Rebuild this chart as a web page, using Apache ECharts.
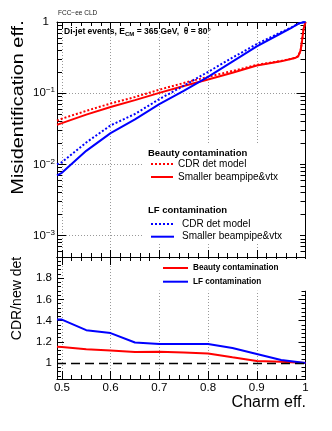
<!DOCTYPE html>
<html>
<head>
<meta charset="utf-8">
<script src="https://cdn.jsdelivr.net/npm/echarts@6/dist/echarts.min.js"></script>
<style>
html, body { margin: 0; padding: 0; background: #fff; }
#chart { width: 332px; height: 431px; }
</style>
</head>
<body>
<div id="chart"></div>
<script>
// charm efficiency points (top panel)
var effBins = [0.49, 0.5, 0.55, 0.6, 0.65, 0.7, 0.75, 0.8, 0.85, 0.9, 0.95, 0.97, 0.98, 0.985, 0.99, 0.993, 0.996, 1.0];
// beauty contamination
var bCdr = [0.041, 0.0438, 0.0565, 0.0716, 0.0884, 0.112, 0.139, 0.17, 0.205, 0.25, 0.284, 0.304, 0.316, 0.331, 0.40, 0.55, 0.8, 1.0];
var bNew = [0.036, 0.038, 0.05, 0.064, 0.08, 0.101, 0.126, 0.156, 0.194, 0.245, 0.28, 0.302, 0.315, 0.33, 0.40, 0.55, 0.8, 1.0];
// light flavour contamination
var lfCdr = [0.0100, 0.0107, 0.0203, 0.0353, 0.051, 0.0826, 0.127, 0.199, 0.315, 0.49, 0.72, 0.83, 0.905, 0.945, 0.97, 0.98, 0.99, 1.0];
var lfNew = [0.0070, 0.0076, 0.0155, 0.0275, 0.043, 0.07, 0.108, 0.169, 0.277, 0.454, 0.695, 0.82, 0.9, 0.94, 0.97, 0.98, 0.99, 1.0];

// ratio panel CDR / new det
var ratioBins = [0.49, 0.5, 0.55, 0.6, 0.65, 0.7, 0.75, 0.8, 0.85, 0.9, 0.95, 1.0];
var ratioB = [1.155, 1.152, 1.13, 1.118, 1.105, 1.108, 1.1, 1.09, 1.054, 1.02, 1.013, 1.0];
var ratioLf = [1.41, 1.41, 1.31, 1.283, 1.194, 1.18, 1.18, 1.18, 1.143, 1.086, 1.03, 1.0];

var legendNames = {
  bCdr: 'CDR det model',
  bNew: 'Smaller beampipe&vtx',
  lfCdr: 'CDR det model',
  lfNew: 'Smaller beampipe&vtx',
  rB: 'Beauty contamination',
  rLf: 'LF contamination'
};

var FONT = '"Liberation Sans", Arial, Helvetica, sans-serif';
var RED = '#ff0000', BLUE = '#0000ff';

function zip(xs, ys) {
  return xs.map(function (x, i) { return [x, ys[i]]; });
}

var gridLine = { show: true, lineStyle: { color: '#999', type: [1, 2], width: 1 } };
var axisLine = { show: true, onZero: false, lineStyle: { color: '#000', width: 1 } };
// hide the symbol that line legends draw by default
var noSymbol = { color: 'rgba(0,0,0,0)', opacity: 0, borderWidth: 0 };

function xAx(gridIndex, pos, opts) {
  return Object.assign({
    type: 'value', gridIndex: gridIndex, position: pos, min: 0.49, max: 1,
    axisLine: axisLine,
    axisTick: { show: true, inside: true, length: 8, lineStyle: { color: '#000' } },
    minorTick: { show: true, splitNumber: 5, length: 4, lineStyle: { color: '#000' } },
    axisLabel: { show: false },
    splitLine: { show: false }
  }, opts || {});
}

var chart = echarts.init(document.getElementById('chart'), null, { renderer: 'canvas' });

var option = {
  animation: false,
  backgroundColor: '#fff',
  textStyle: { fontFamily: FONT },
  grid: [
    { left: 57, top: 22, width: 248.5, height: 235 },
    { left: 57, top: 257, width: 248.5, height: 122 }
  ],
  xAxis: [
    xAx(0, 'bottom', { splitLine: gridLine, axisTick: { show: true, inside: true, length: 7, lineStyle: { color: '#000' } } }),
    xAx(0, 'top', { axisTick: { show: true, inside: true, length: 7, lineStyle: { color: '#000' } } }),
    xAx(1, 'bottom', {
      splitLine: gridLine,
      axisLabel: { show: true, showMinLabel: false, margin: 3, color: '#000', fontSize: 11.5, fontFamily: FONT }
    }),
    xAx(1, 'top', {})
  ],
  yAxis: [
    {
      type: 'log', logBase: 10, gridIndex: 0, position: 'left', min: 5e-4, max: 1,
      axisLine: axisLine,
      axisTick: { show: true, inside: true, length: 9, lineStyle: { color: '#000' } },
      minorTick: { show: true, splitNumber: 9, length: 5, lineStyle: { color: '#000' } },
      splitLine: gridLine,
      axisLabel: {
        show: true, showMinLabel: false, margin: 2, color: '#000',
        formatter: function (v) {
          if (Math.abs(v - 1) < 1e-9) return '{o|1}';
          var e = Math.round(Math.log10(v));
          return '{n|10}{s|\u2212' + (-e) + '}';
        },
        rich: {
          o: { fontSize: 11.5, fontFamily: FONT, color: '#000', padding: [0, 6, 0, 0] },
          n: { fontSize: 11.5, fontFamily: FONT, color: '#000' },
          s: { fontSize: 8, fontFamily: FONT, color: '#000', verticalAlign: 'top', padding: [0, 0, 6, 0] }
        }
      }
    },
    {
      type: 'log', logBase: 10, gridIndex: 0, position: 'right', min: 5e-4, max: 1,
      axisLine: axisLine,
      axisTick: { show: true, inside: true, length: 9, lineStyle: { color: '#000' } },
      minorTick: { show: true, splitNumber: 9, length: 5, lineStyle: { color: '#000' } },
      splitLine: { show: false },
      axisLabel: { show: false }
    },
    {
      type: 'value', gridIndex: 1, position: 'left', min: 0.85, max: 2,
      axisLine: axisLine,
      axisTick: { show: true, inside: true, length: 7, lineStyle: { color: '#000' } },
      minorTick: { show: true, splitNumber: 5, length: 4, lineStyle: { color: '#000' } },
      splitLine: { show: false },
      axisLabel: { show: true, showMinLabel: false, showMaxLabel: false, margin: 5, color: '#000', fontSize: 11.5, fontFamily: FONT }
    },
    {
      type: 'value', gridIndex: 1, position: 'right', min: 0.85, max: 2,
      axisLine: axisLine,
      axisTick: { show: true, inside: true, length: 7, lineStyle: { color: '#000' } },
      minorTick: { show: true, splitNumber: 5, length: 4, lineStyle: { color: '#000' } },
      splitLine: { show: false },
      axisLabel: { show: false }
    }
  ],
  legend: [
    {
      data: ['bCdr', 'bNew'], orient: 'vertical', left: 150, top: 159, padding: 0,
      itemWidth: 22, itemHeight: 10, itemGap: 3, selectedMode: false, itemStyle: noSymbol,
      formatter: function (n) { return legendNames[n]; },
      textStyle: { fontSize: 10, color: '#000', fontFamily: FONT }
    },
    {
      data: ['lfCdr', 'lfNew'], orient: 'vertical', left: 150, top: 219, padding: 0,
      itemWidth: 23, itemHeight: 10, itemGap: 2.7, selectedMode: false, itemStyle: noSymbol,
      formatter: function (n) { return legendNames[n]; },
      textStyle: { fontSize: 10, color: '#000', fontFamily: FONT, padding: [0, 0, 0, 3] }
    },
    {
      data: ['rB', 'rLf'], orient: 'vertical', left: 155, top: 259, padding: [5, 40, 5, 7],
      backgroundColor: '#fff', itemStyle: noSymbol,
      itemWidth: 25, itemHeight: 10, itemGap: 5.7, selectedMode: false,
      formatter: function (n) { return legendNames[n]; },
      textStyle: { fontSize: 8.2, fontWeight: 'bold', color: '#000', fontFamily: FONT }
    }
  ],
  series: [
    {
      name: 'bCdr', type: 'line', xAxisIndex: 0, yAxisIndex: 0, symbol: 'none',
      data: zip(effBins, bCdr),
      lineStyle: { color: RED, width: 2, type: 'dotted' }, itemStyle: { color: RED }
    },
    {
      name: 'bNew', type: 'line', xAxisIndex: 0, yAxisIndex: 0, symbol: 'none',
      data: zip(effBins, bNew),
      lineStyle: { color: RED, width: 2 }, itemStyle: { color: RED }
    },
    {
      name: 'lfCdr', type: 'line', xAxisIndex: 0, yAxisIndex: 0, symbol: 'none',
      data: zip(effBins, lfCdr),
      lineStyle: { color: BLUE, width: 2, type: 'dotted' }, itemStyle: { color: BLUE }
    },
    {
      name: 'lfNew', type: 'line', xAxisIndex: 0, yAxisIndex: 0, symbol: 'none',
      data: zip(effBins, lfNew),
      lineStyle: { color: BLUE, width: 2 }, itemStyle: { color: BLUE }
    },
    {
      name: 'rB', type: 'line', xAxisIndex: 2, yAxisIndex: 2, symbol: 'none',
      data: zip(ratioBins, ratioB),
      lineStyle: { color: RED, width: 2 }, itemStyle: { color: RED },
      markLine: {
        silent: true, symbol: 'none', label: { show: false },
        lineStyle: { color: '#000', type: [9, 5], width: 1.3 },
        data: [{ yAxis: 1 }]
      }
    },
    {
      name: 'rLf', type: 'line', xAxisIndex: 2, yAxisIndex: 2, symbol: 'none',
      data: zip(ratioBins, ratioLf),
      lineStyle: { color: BLUE, width: 2 }, itemStyle: { color: BLUE }
    }
  ],
  graphic: [
    // white box behind the top legend
    { type: 'rect', z: 1, shape: { x: 143, y: 143, width: 157, height: 101 }, style: { fill: '#fff' } },
    { type: 'text', z: 5, x: 148, y: 153, style: { text: 'Beauty contamination', font: 'bold 9.5px ' + FONT, fill: '#000', textVerticalAlign: 'middle' } },
    { type: 'text', z: 5, x: 148, y: 210, style: { text: 'LF contamination', font: 'bold 9.5px ' + FONT, fill: '#000', textVerticalAlign: 'middle' } },
    { type: 'text', z: 5, x: 58, y: 13, style: { text: 'FCC\u2212ee CLD', font: '6.5px ' + FONT, fill: '#222', textVerticalAlign: 'middle' } },
    {
      type: 'text', z: 5, x: 64, y: 32,
      style: {
        text: '{b|Di-jet events, E}{sub|CM}{b| = 365 GeV,  \u03b8 = 80\u00b0}',
        textVerticalAlign: 'middle',
        rich: {
          b: { font: 'bold 8.5px ' + FONT, fill: '#000' },
          sub: { font: 'bold 6px ' + FONT, fill: '#000', padding: [5, 0, 0, 0] }
        }
      }
    },
    {
      type: 'text', z: 5, x: 18, y: 107.5, rotation: Math.PI / 2, scaleX: 1.17,
      style: { text: 'Misidentification eff.', font: '17px ' + FONT, fill: '#000', textAlign: 'center', textVerticalAlign: 'middle' }
    },
    {
      type: 'text', z: 5, x: 17, y: 298.5, rotation: Math.PI / 2,
      style: { text: 'CDR/new det', font: '14px ' + FONT, fill: '#000', textAlign: 'center', textVerticalAlign: 'middle' }
    },
    {
      type: 'text', z: 5, x: 306, y: 403,
      style: { text: 'Charm eff.', font: '16px ' + FONT, fill: '#000', textAlign: 'right', textVerticalAlign: 'middle' }
    }
  ]
};

chart.setOption(option);
</script>
</body>
</html>
